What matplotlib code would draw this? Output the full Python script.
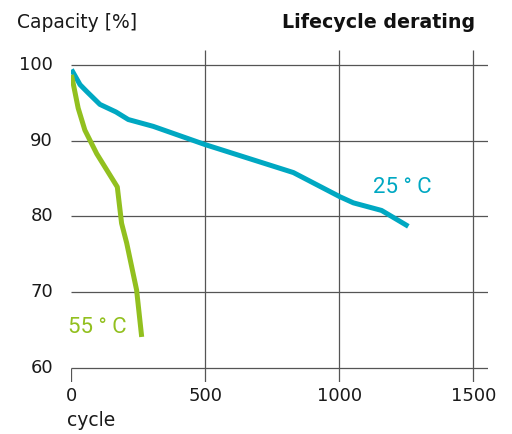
import matplotlib.pyplot as plt

# 25 °C curve
cycles_25 = [0, 32, 57, 106, 166, 212, 305, 498, 828, 1002, 1052, 1157, 1257]
capacity_25 = [99.4, 97.4, 96.5, 94.8, 93.8, 92.8, 91.9, 89.5, 85.8, 82.6, 81.8, 80.8, 78.7]

# 55 °C curve
cycles_55 = [0, 25, 50, 94, 171, 187, 206, 243, 262]
capacity_55 = [98.7, 94.3, 91.4, 88.3, 83.9, 79.1, 76.5, 70.3, 64.1]

x_ticks = [0, 500, 1000, 1500]
y_ticks = [60, 70, 80, 90, 100]

blue = '#00a8c2'
green = '#92c01f'
grid_color = '#555555'
text_color = '#1a1a1a'

plt.rcParams['font.family'] = ['DejaVu Sans']

fig = plt.figure(figsize=(5.12, 4.34), dpi=100)
ax = fig.add_axes([0.1396, 0.1198, 0.953 - 0.1396, 0.8848 - 0.1198])
ax.set_xlim(0, 1554)
ax.set_ylim(58.15, 101.98)
for s in ax.spines.values():
    s.set_visible(False)
ax.set_xticks([])
ax.set_yticks([])

# grid
for y in y_ticks:
    ax.hlines(y, 0, 1554, color=grid_color, linewidth=0.9, zorder=1)
for x in x_ticks:
    top = 60 if x == 0 else 101.98
    ax.vlines(x, 58.15, top, color=grid_color, linewidth=0.9, zorder=1)

ax.plot(cycles_25, capacity_25, color=blue, linewidth=3.6, solid_capstyle='butt', zorder=3)
ax.plot(cycles_55, capacity_55, color=green, linewidth=3.6, solid_capstyle='butt', zorder=3)

ax.text(1125, 83.8, '25 ° C', color=blue, fontsize=16, ha='left', va='center',
        family=['Roboto', 'DejaVu Sans'])
ax.text(-13, 65.4, '55 ° C', color=green, fontsize=16, ha='left', va='center',
        family=['Roboto', 'DejaVu Sans'])

for y in y_ticks:
    ax.text(-69, y, str(y), fontsize=13, ha='right', va='center', color=text_color)
for x in x_ticks:
    ax.text(x, 56.3, str(x), fontsize=13, ha='center', va='center', color=text_color)

fig.text(67 / 512, 1 - 420 / 434, 'cycle', fontsize=13.5, ha='left', va='center', color=text_color)
fig.text(17 / 512, 1 - 22 / 434, 'Capacity [%]', fontsize=13.5, ha='left', va='center', color=text_color)
fig.text(475 / 512, 1 - 22 / 434, 'Lifecycle derating', fontsize=13.7, ha='right', va='center',
         color='#111111', fontweight='bold')

fig.savefig('out.png', dpi=100)
